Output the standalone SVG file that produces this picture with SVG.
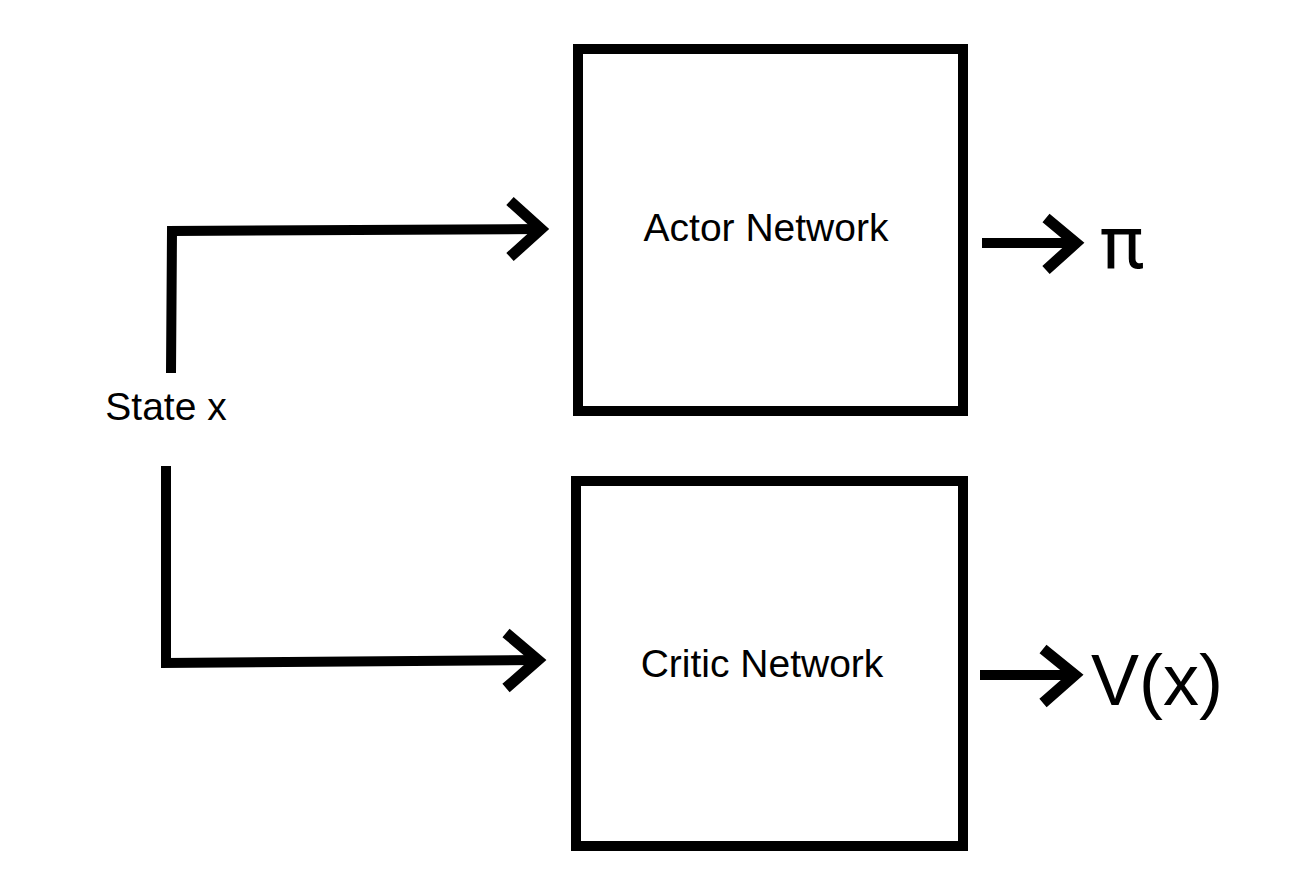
<svg xmlns="http://www.w3.org/2000/svg" width="1290" height="883" viewBox="0 0 1290 883">
<style>
.box{fill:none;stroke:#000;stroke-width:10}
.ln{fill:none;stroke:#000;stroke-width:10}
.hd{fill:none;stroke:#000;stroke-width:11}
.lbl{font-family:"Liberation Sans",Arial,sans-serif;font-size:39px;fill:#000;text-anchor:middle}
.out{font-family:"Liberation Sans",Arial,sans-serif;font-size:72px;fill:#000}
</style>
<rect width="1290" height="883" fill="#fff"/>
<g id="state">
<text class="lbl" x="166" y="420" font-size="38">State x</text>
</g>
<g id="actor">
<rect class="box" x="578" y="49" width="385" height="362"/>
<text class="lbl" x="766" y="241">Actor Network</text>
</g>
<g id="critic">
<rect class="box" x="576" y="481" width="387" height="365"/>
<text class="lbl" x="762" y="677">Critic Network</text>
</g>
<g id="pi">
<text class="out" x="1100" y="268" style="font-family:Roboto,'Liberation Sans',sans-serif;font-size:74px;font-weight:400">π</text>
</g>
<g id="value">
<text class="out" x="1091" y="705">V(x)</text>
</g>
<g id="connectors">
<polyline class="ln" points="171,373 172,231 540,229"/>
<polyline class="hd" points="510,201 541,229 510,257"/>
<polyline class="ln" points="166,466 166,663 538,660"/>
<polyline class="hd" points="506,633 538,660 506,688"/>
<line class="ln" x1="982" y1="243" x2="1077" y2="243"/>
<polyline class="hd" points="1046,218 1076,243 1046,270"/>
<line class="ln" x1="980" y1="675" x2="1075" y2="675"/>
<polyline class="hd" points="1043,649 1075,675 1043,703"/>
</g>
</svg>
